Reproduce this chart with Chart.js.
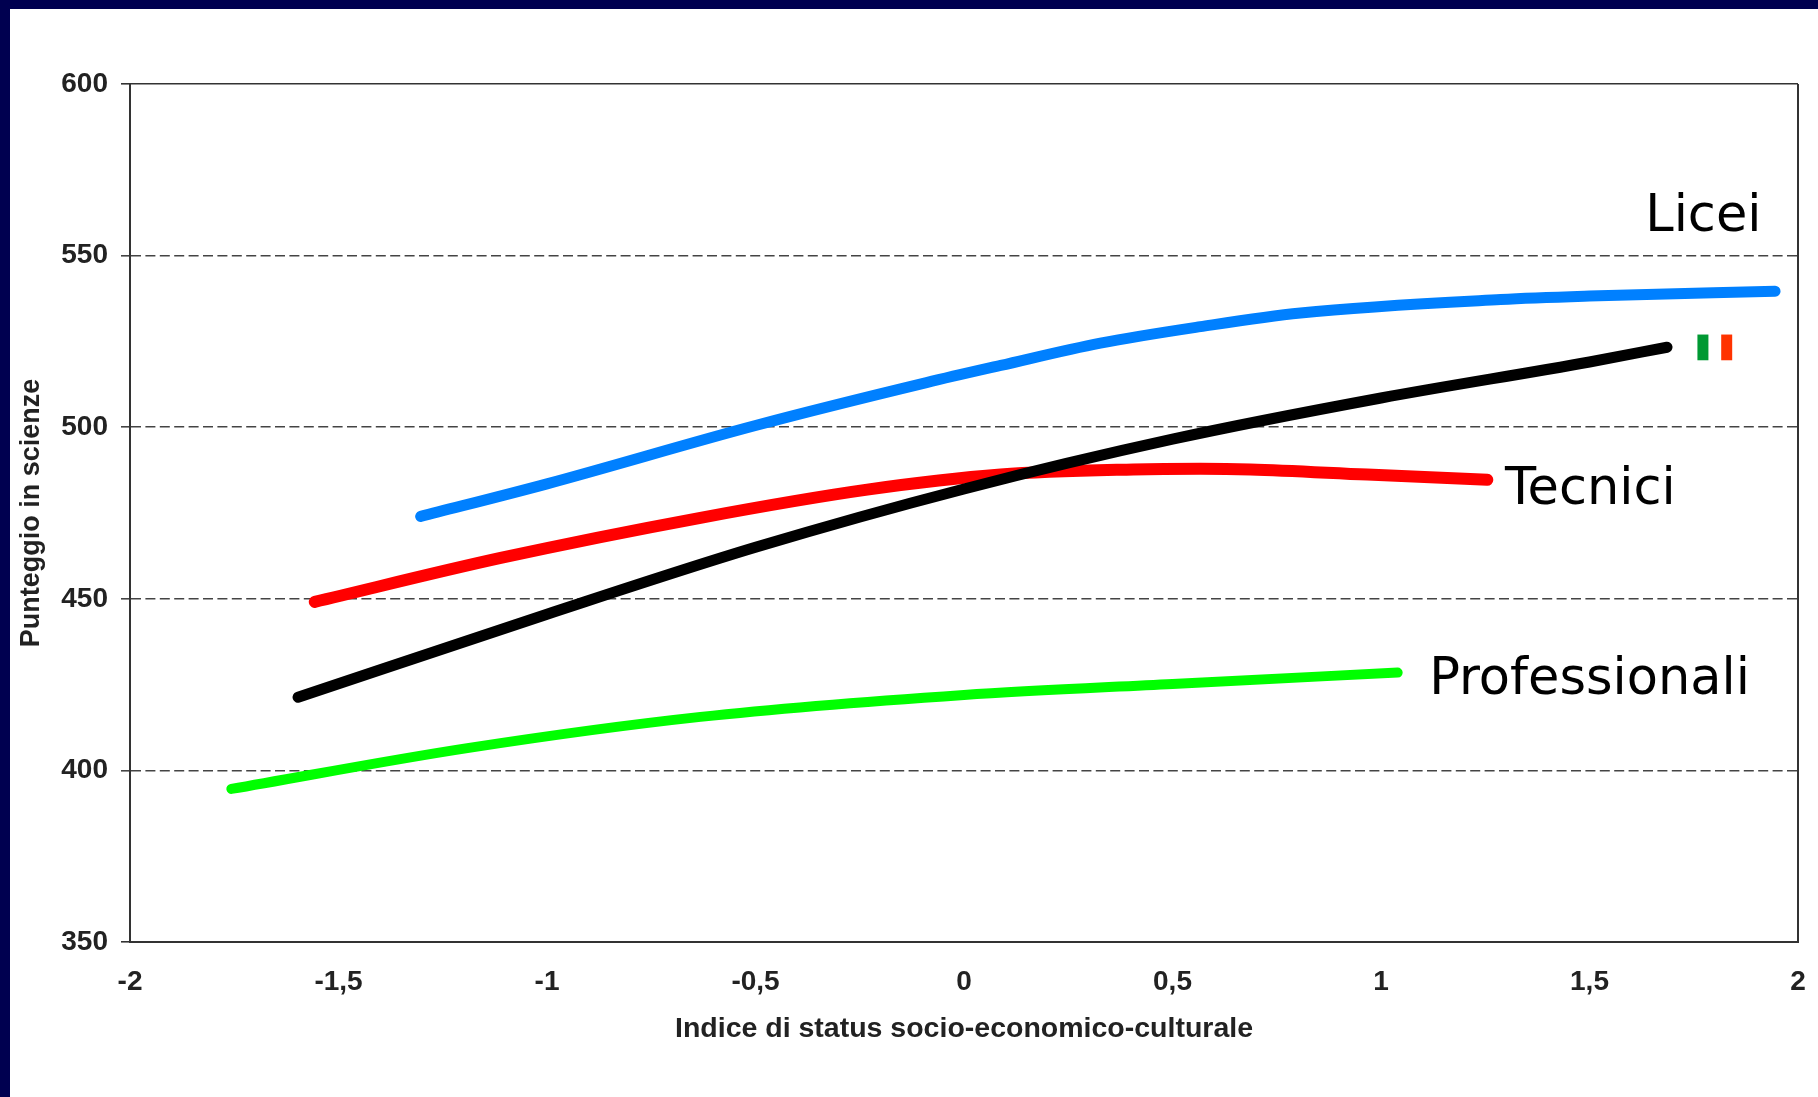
<!DOCTYPE html>
<html><head><meta charset="utf-8">
<style>
html,body{margin:0;padding:0;background:#000050;width:1818px;height:1097px;overflow:hidden}
#sheet{position:absolute;left:10px;top:9px;width:1808px;height:1088px;background:#fff}
canvas{position:absolute;left:0;top:0}
</style>
<script src="https://cdn.jsdelivr.net/npm/chart.js@4"></script>
</head><body>
<div id="sheet"></div>
<canvas id="c" width="1818" height="1097"></canvas>
<script>
const liceiX=[-1.303,-1,-0.5,-0.09,0.088,0.327,0.567,0.807,1.287,1.5,1.945];
const liceiY=[474,483.5,500.5,513,518,524.5,529.3,533.3,537.2,538.2,539.6];
const italiaX=[-1.597,-1,-0.5,0,0.5,1,1.5,1.686];
const italiaY=[421.3,445.5,465,482,496.5,508.5,519,523.3];
const tecniciX=[-1.557,-1.111,-0.632,-0.232,0.088,0.406,0.567,0.687,0.967,1.255];
const tecniciY=[449.1,461.9,473.6,481.8,486.2,487.7,487.9,487.7,486.2,484.7];
const profX=[-1.757,-1.191,-0.632,0,0.5,1.04];
const profY=[394.6,406.5,415.6,422,425.2,428.5];
const flagGreenX=[1.772,1.772];
const flagRedX=[1.829,1.829];
const flagY=[519.5,527];
const labelNames=['Licei','Tecnici','Professionali'];
const labelX=[1.773,1.502,1.5];
const labelY=[561,481.5,426];
const xTitle='Indice di status socio-economico-culturale';
const yTitle='Punteggio in scienze';
const pts=(x,y)=>x.map((v,i)=>({x:v,y:y[i]}));
const ds=(label,x,y,color,w)=>({label,data:pts(x,y),borderColor:color,backgroundColor:color,borderWidth:w,pointRadius:0,cubicInterpolationMode:'monotone',borderCapStyle:'round',borderJoinStyle:'round'});
const flag=(label,x,color)=>({label,data:pts(x,flagY),borderColor:color,borderWidth:11,pointRadius:0,borderCapStyle:'butt'});
const FONT='"Liberation Sans"';
const LABEL_FONT='51px "DejaVu Sans"';
const DASH=[10,4.4];
const isEdge=ctx=>ctx.tick&&(ctx.tick.value===350||ctx.tick.value===600);
const textPlugin={id:'txt',
 beforeDatasetsDraw(ch){
  const c=ch.ctx,a=ch.chartArea;
  c.save();c.strokeStyle='#333';c.lineWidth=2;
  c.beginPath();c.moveTo(a.right,a.top);c.lineTo(a.right,a.bottom);c.stroke();c.restore();
 },
 afterDatasetsDraw(ch){
  const c=ch.ctx,sx=ch.scales.x,sy=ch.scales.y;
  c.save();c.fillStyle='#000';c.font=LABEL_FONT;c.textAlign='center';c.textBaseline='middle';
  labelNames.forEach((t,i)=>c.fillText(t,sx.getPixelForValue(labelX[i]),sy.getPixelForValue(labelY[i])));
  c.restore();
 }};
new Chart(document.getElementById('c'),{type:'line',
 data:{datasets:[
  ds('Licei',liceiX,liceiY,'#0080ff',11),
  ds('Italia',italiaX,italiaY,'#000000',11),
  ds('Tecnici',tecniciX,tecniciY,'#ff0000',12),
  ds('Professionali',profX,profY,'#00ff00',10),
  flag('bandiera verde',flagGreenX,'#009933'),
  flag('bandiera rossa',flagRedX,'#ff3300')
 ]},
 options:{responsive:false,animation:false,
  layout:{padding:{left:15,top:84,right:20,bottom:51}},
  plugins:{legend:{display:false},title:{display:false},tooltip:{enabled:false}},
  scales:{
   x:{type:'linear',min:-2,max:2,
    border:{display:true,color:'#333',width:2},
    grid:{display:false},
    afterFit(a){a.height=104;a.paddingLeft=0;a.paddingRight=0;},
    ticks:{stepSize:0.5,maxRotation:0,autoSkip:false,padding:15,color:'#222',font:{family:FONT,size:28,weight:'bold'},
      callback:v=>String(v).replace('.',',')},
    title:{display:true,text:xTitle,color:'#222',font:{family:FONT,size:28.5,weight:'bold'},padding:{top:0,bottom:0}}
   },
   y:{type:'linear',min:350,max:600,
    border:{display:true,color:'#333',width:2,dash:ctx=>isEdge(ctx)?[]:DASH},
    grid:{color:ctx=>isEdge(ctx)?'#333':'#444',lineWidth:1.6,tickLength:9,tickBorderDash:ctx=>isEdge(ctx)?[]:DASH,tickColor:ctx=>isEdge(ctx)?'#333':'#444'},
    afterFit(a){a.width=115;},
    ticks:{stepSize:50,padding:13,color:'#222',font:{family:FONT,size:28,weight:'bold'}},
    title:{display:true,text:yTitle,color:'#222',font:{family:FONT,size:27,weight:'bold'},padding:{top:0,bottom:0}}
   }
  }
 },plugins:[textPlugin]});
</script>
</body></html>
